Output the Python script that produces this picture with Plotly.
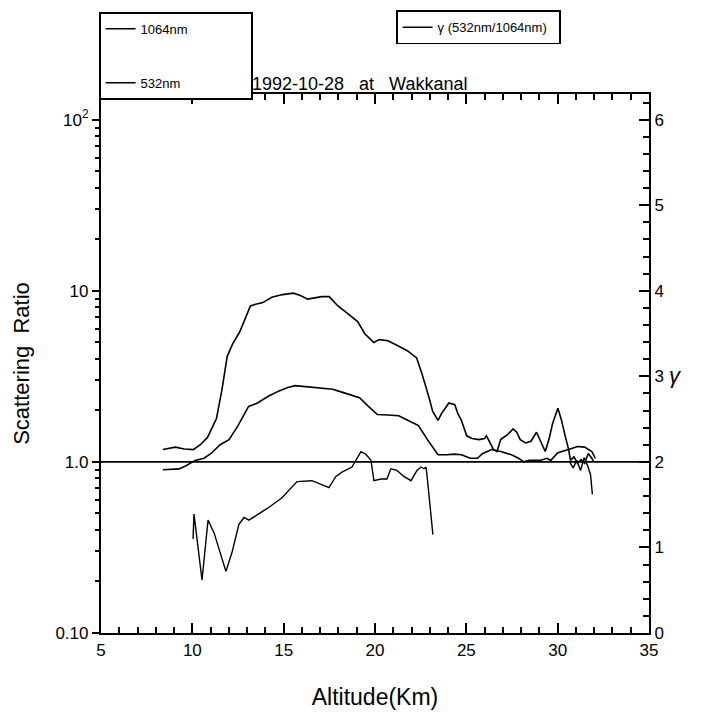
import plotly.graph_objects as go

# ---------------- data ----------------
alt_1064 = [8.39, 9.07, 9.56, 10.05, 10.44, 10.83, 11.32, 11.61, 11.91, 12.20, 12.59, 12.89, 13.18,
            13.47, 13.86, 14.35, 14.94, 15.53, 15.92, 16.31, 16.70, 17.09, 17.49, 17.97, 18.46,
            19.05, 19.44, 19.93, 20.23, 20.71, 21.20, 21.79, 22.28, 22.57, 22.96, 23.16, 23.45,
            23.65, 24.04, 24.37, 24.53, 24.73, 25.02, 25.31, 25.70, 26.00, 26.10, 26.25, 26.39,
            26.49, 26.68, 26.88, 27.27, 27.56, 27.76, 27.95, 28.25, 28.54, 28.84, 29.03, 29.32,
            29.52, 29.72, 30.01, 30.21, 30.41, 30.60, 30.70, 30.89, 31.09, 31.28, 31.48, 31.67,
            31.87, 31.97]
sr_1064 = [1.18, 1.22, 1.19, 1.18, 1.26, 1.39, 1.79, 2.60, 4.14, 4.88, 5.74, 6.92, 8.15,
           8.34, 8.53, 9.16, 9.50, 9.68, 9.37, 8.94, 9.06, 9.24, 9.24, 8.15, 7.42,
           6.61, 5.61, 4.99, 5.18, 5.11, 4.81, 4.45, 4.05, 3.28, 2.37, 1.97, 1.75,
           1.92, 2.21, 2.16, 1.92, 1.75, 1.42, 1.37, 1.35, 1.37, 1.42, 1.32, 1.26,
           1.18, 1.15, 1.35, 1.45, 1.56, 1.49, 1.35, 1.29, 1.32, 1.49, 1.35, 1.15,
           1.35, 1.67, 2.06, 1.75, 1.42, 1.18, 1.02, 1.07, 0.98, 1.03, 0.98, 1.12,
           1.05, 1.00]

alt_532 = [8.39, 9.27, 9.66, 10.15, 10.64, 11.03, 11.52, 12.01, 12.50, 13.08, 13.57, 14.16,
           14.75, 15.23, 15.63, 16.31, 17.09, 17.68, 18.27, 19.15, 19.64, 20.13, 20.71, 21.30,
           21.79, 22.38, 22.87, 23.45, 23.94, 24.33, 24.73, 25.22, 25.61, 25.90, 26.39, 26.88,
           27.47, 27.86, 28.15, 28.44, 29.03, 29.42, 29.62, 30.01, 30.60, 31.09, 31.48, 31.87,
           32.06]
sr_532 = [0.90, 0.91, 0.95, 1.02, 1.05, 1.12, 1.26, 1.35, 1.63, 2.11, 2.21, 2.42,
          2.60, 2.72, 2.79, 2.75, 2.72, 2.66, 2.54, 2.37, 2.11, 1.89, 1.88, 1.86,
          1.75, 1.63, 1.35, 1.10, 1.10, 1.11, 1.10, 1.05, 1.05, 1.12, 1.18, 1.15,
          1.10, 1.05, 1.00, 1.02, 1.02, 1.05, 1.02, 1.13, 1.18, 1.23, 1.22, 1.15,
          1.05]

alt_gamma = [10.04, 10.09, 10.53, 10.86, 11.19, 11.84, 12.17, 12.55, 12.83, 13.10, 13.76,
             14.20, 14.91, 15.73, 16.55, 17.48, 17.86, 18.19, 18.74, 19.23, 19.50, 19.78,
             19.94, 20.33, 20.65, 20.87, 21.20, 21.58, 21.97, 22.30, 22.52, 22.68, 22.79,
             22.84, 23.17, None,
             30.65, 30.85, 31.05, 31.25, 31.45, 31.65, 31.80, 31.90]
gamma = [1.10, 1.39, 0.62, 1.32, 1.17, 0.72, 0.94, 1.27, 1.35, 1.32, 1.41,
         1.47, 1.58, 1.77, 1.78, 1.70, 1.83, 1.88, 1.94, 2.12, 2.09, 2.02,
         1.78, 1.80, 1.80, 1.92, 1.90, 1.83, 1.78, 1.90, 1.94, 1.92, 1.94,
         1.86, 1.15, None,
         2.00, 1.93, 2.02, 1.90, 2.05, 1.95, 1.85, 1.62]

ref_level = 1.0

x_ticks = [5, 10, 15, 20, 25, 30, 35]
y_ticks = [0.1, 1.0, 10, 100]
y_ticktext = ["0.10", "1.0", "10", "10<sup>2</sup>"]
y_minor = [0.2, 0.3, 0.4, 0.5, 0.6, 0.7, 0.8, 0.9, 2, 3, 4, 5, 6, 7, 8, 9,
           20, 30, 40, 50, 60, 70, 80, 90]
g_ticks = [0, 1, 2, 3, 4, 5, 6]

FONT = "Liberation Sans, Arial, sans-serif"
NB = "\u00a0"

fig = go.Figure()
fig.add_trace(go.Scatter(x=alt_1064, y=sr_1064, mode="lines", name="1064nm" + NB * 16,
                         line=dict(color="black", width=1.6), yaxis="y2",
                         legend="legend", legendgroup="a"))
fig.add_trace(go.Scatter(x=alt_532, y=sr_532, mode="lines", name="532nm",
                         line=dict(color="black", width=1.6), yaxis="y2",
                         legend="legend", legendgroup="b"))
fig.add_trace(go.Scatter(x=alt_gamma, y=gamma, mode="lines", name="γ (532nm/1064nm)" + NB * 2,
                         line=dict(color="black", width=1.4), yaxis="y",
                         legend="legend2", connectgaps=False))

fig.add_shape(type="line", xref="x domain", x0=0, x1=1, yref="y2",
              y0=ref_level, y1=ref_level, line=dict(color="black", width=1.8))

common = dict(showline=True, linecolor="black", linewidth=2.2,
              showgrid=False, zeroline=False, automargin=False,
              tickwidth=2.2, tickcolor="black",
              tickfont=dict(size=17, color="black"))

fig.update_layout(
    width=713, height=722,
    margin=dict(l=93, r=72, t=86, b=97, autoexpand=False),
    paper_bgcolor="white", plot_bgcolor="white",
    font=dict(family=FONT, color="black", size=15),
    xaxis=dict(range=[5, 35], tickvals=x_ticks, mirror="ticks",
               ticks="inside", ticklen=10,
               minor=dict(dtick=1, ticks="inside", ticklen=6, tickwidth=2,
                          tickcolor="black"),
               title=dict(text="Altitude(Km)", font=dict(size=23), standoff=30),
               **common),
    # gamma axis (right)
    yaxis=dict(range=[0, 6.3], tickvals=g_ticks, side="right",
               ticks="inside", ticklen=10,
               minor=dict(dtick=0.2, ticks="inside", ticklen=6, tickwidth=2,
                          tickcolor="black"),
               **common),
    # scattering ratio axis (left, log)
    yaxis2=dict(type="log", range=[-1, 2.15], tickvals=y_ticks, ticktext=y_ticktext,
                overlaying="y", side="left", ticks="outside", ticklen=7,
                minor=dict(tickvals=y_minor, ticks="outside", ticklen=4, tickwidth=2,
                           tickcolor="black"),
                title=dict(text="Scattering" + NB * 2 + "Ratio", font=dict(size=22),
                           standoff=20),
                **common),
    legend=dict(x=-0.004, y=1.152, xanchor="left", yanchor="top",
                bgcolor="white", bordercolor="black", borderwidth=1.8,
                font=dict(size=13), traceorder="grouped", tracegroupgap=34,
                itemwidth=30),
    legend2=dict(x=0.538, y=1.155, xanchor="left", yanchor="top",
                 bgcolor="white", bordercolor="black", borderwidth=1.8,
                 font=dict(size=13), itemwidth=30),
    showlegend=True,
    annotations=[
        dict(text="1992-10-28" + NB * 3 + "at" + NB * 3 + "Wakkanal",
             xref="paper", yref="paper", x=0.272, y=1.018,
             xanchor="left", yanchor="middle", showarrow=False,
             font=dict(size=18, family=FONT)),
        dict(text="<i>γ</i>", xref="paper", yref="paper", x=1.049, y=0.478,
             xanchor="center", yanchor="middle", showarrow=False,
             font=dict(size=22, family=FONT)),
    ],
)

fig.write_html("out.html")
